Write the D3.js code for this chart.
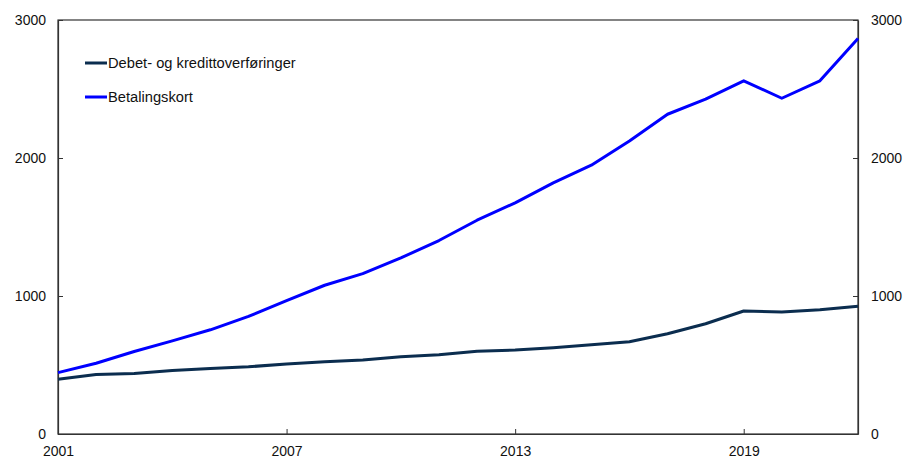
<!DOCTYPE html>
<html>
<head>
<meta charset="utf-8">
<script src="https://cdn.jsdelivr.net/npm/d3@7"></script>
<style>
  html, body { margin: 0; padding: 0; background: #fff; }
  svg { display: block; font-family: "Liberation Sans", Arial, sans-serif; }
</style>
</head>
<body>
<svg id="chart" width="906" height="459"></svg>
<script>
// Years on the x axis
const years = [2001, 2002, 2003, 2004, 2005, 2006, 2007, 2008, 2009, 2010, 2011,
               2012, 2013, 2014, 2015, 2016, 2017, 2018, 2019, 2020, 2021, 2022];

// Debet- og kredittoverføringer
const transfers = [397, 431, 438, 460, 474, 487, 508, 523, 537, 559, 574,
                   600, 608, 625, 646, 668, 726, 799, 891, 884, 900, 925];

// Betalingskort
const cards = [445, 513, 598, 675, 755, 852, 966, 1078, 1162, 1276, 1402,
               1549, 1675, 1820, 1948, 2123, 2317, 2426, 2559, 2433, 2559, 2866];

const xTicks = [2001, 2007, 2013, 2019];
const yTicks = [0, 1000, 2000, 3000];

const seriesNames = ["Debet- og kredittoverføringer", "Betalingskort"];
const seriesColors = ["#0b2d4f", "#0000ff"];

const svg = d3.select("#chart");
const plot = { left: 58, right: 858, top: 20, bottom: 434 };

const x = d3.scaleLinear().domain([2001, 2022]).range([plot.left, plot.right]);
const y = d3.scaleLinear().domain([0, 3000]).range([plot.bottom, plot.top]);

const axisColor = "#333";

// Frame
svg.append("rect")
  .attr("x", plot.left).attr("y", plot.top)
  .attr("width", plot.right - plot.left).attr("height", plot.bottom - plot.top)
  .attr("fill", "none").attr("stroke", axisColor).attr("stroke-width", 1.2);

// Left axis
const gl = svg.append("g").attr("transform", `translate(${plot.left},0)`)
  .call(d3.axisLeft(y).tickValues(yTicks).tickSizeInner(-5).tickSizeOuter(0).tickPadding(12).tickFormat(d3.format("d")));
// Right axis
const gr = svg.append("g").attr("transform", `translate(${plot.right},0)`)
  .call(d3.axisRight(y).tickValues(yTicks).tickSizeInner(-5).tickSizeOuter(0).tickPadding(13).tickFormat(d3.format("d")));
// Bottom axis
const gb = svg.append("g").attr("transform", `translate(0,${plot.bottom})`)
  .call(d3.axisBottom(x).tickValues(xTicks).tickSizeInner(-5).tickSizeOuter(0).tickPadding(12).tickFormat(d3.format("d")));

[gl, gr, gb].forEach(g => {
  g.select(".domain").attr("stroke", axisColor).attr("stroke-width", 1.2);
  g.selectAll(".tick line").attr("stroke", axisColor);
  g.selectAll(".tick text").attr("fill", "#111").attr("font-size", 14)
    .attr("font-family", "'Liberation Sans', Arial, sans-serif");
});

// Lines
const line = d3.line().x((d, i) => x(years[i])).y(d => y(d));
[transfers, cards].forEach((vals, k) => {
  svg.append("path")
    .datum(vals)
    .attr("d", line)
    .attr("fill", "none")
    .attr("stroke", seriesColors[k])
    .attr("stroke-width", 3)
    .attr("stroke-linejoin", "round");
});

// Legend
const legend = svg.append("g");
seriesNames.forEach((name, k) => {
  const ly = 63 + k * 34;
  legend.append("line")
    .attr("x1", 85).attr("x2", 107).attr("y1", ly).attr("y2", ly)
    .attr("stroke", seriesColors[k]).attr("stroke-width", 3);
  legend.append("text")
    .attr("x", 108).attr("y", ly + 5)
    .attr("font-size", 14.7).attr("fill", "#111")
    .text(name);
});
</script>
</body>
</html>
